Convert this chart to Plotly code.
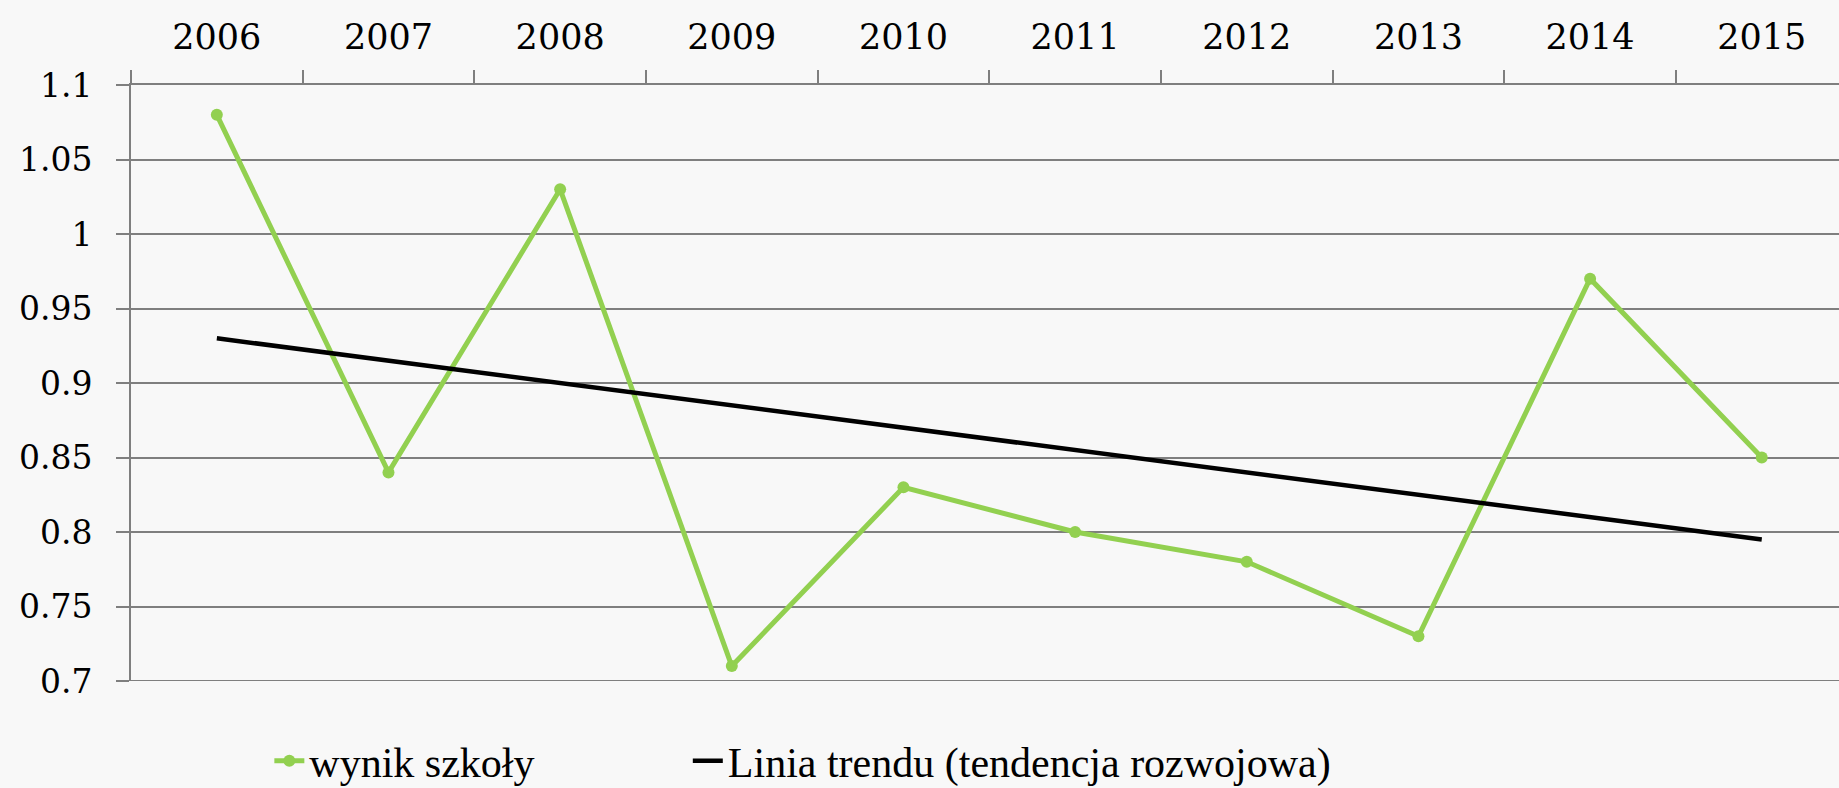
import plotly.graph_objects as go

years = ["2006", "2007", "2008", "2009", "2010", "2011", "2012", "2013", "2014", "2015"]
school_result = [1.08, 0.84, 1.03, 0.71, 0.83, 0.80, 0.78, 0.73, 0.97, 0.85]
trend_years = ["2006", "2015"]
trend_values = [0.93, 0.795]
y_ticks = [0.7, 0.75, 0.8, 0.85, 0.9, 0.95, 1.0, 1.05, 1.1]
y_tick_labels = ["0.7", "0.75", "0.8", "0.85", "0.9", "0.95", "1", "1.05", "1.1"]

GREEN = "#92D050"
GRID = "#7f7f7f"
BG = "#f8f8f8"

fig = go.Figure()
fig.add_trace(go.Scatter(
    x=years, y=school_result, mode="lines+markers", name="wynik szkoły",
    line=dict(color=GREEN, width=5), marker=dict(color=GREEN, size=12),
    legend="legend",
))
fig.add_trace(go.Scatter(
    x=trend_years, y=trend_values, mode="lines",
    name="Linia trendu (tendencja rozwojowa)",
    line=dict(color="black", width=4.5),
    legend="legend2",
))

legend_font = dict(family="Liberation Serif", size=42, color="black")

fig.update_layout(
    width=1839, height=788,
    margin=dict(l=131, r=0, t=85, b=107, autoexpand=False),
    paper_bgcolor=BG, plot_bgcolor=BG,
    font=dict(family="DejaVu Serif", color="black"),
    showlegend=True,
    legend=dict(
        orientation="h", x=0.081, xanchor="left", y=-0.134, yanchor="middle",
        font=legend_font, bgcolor="rgba(0,0,0,0)",
    ),
    legend2=dict(
        orientation="h", x=0.326, xanchor="left", y=-0.134, yanchor="middle",
        font=legend_font, bgcolor="rgba(0,0,0,0)",
    ),
    xaxis=dict(
        type="category", categoryorder="array", categoryarray=years,
        side="top", range=[-0.5, 9.45], showgrid=False,
        ticks="outside", tickson="boundaries", ticklen=13, tickwidth=2, tickcolor=GRID,
        showline=True, linecolor=GRID, linewidth=2,
        tickfont=dict(family="DejaVu Serif", size=35, color="black"),
        ticklabelstandoff=20,
        zeroline=False,
    ),
    yaxis=dict(
        range=[0.7, 1.1], tickvals=y_ticks, ticktext=y_tick_labels,
        showgrid=True, gridcolor=GRID, gridwidth=2,
        ticks="outside", ticklen=13, tickwidth=2, tickcolor=GRID,
        showline=True, linecolor=GRID, linewidth=2,
        tickfont=dict(family="DejaVu Serif", size=33, color="black"),
        ticklabelstandoff=17,
        zeroline=False,
    ),
)

# bottom gridline at the lowest tick value (range edge)
fig.add_shape(
    type="line", xref="paper", yref="y", x0=0, x1=1,
    y0=y_ticks[0], y1=y_ticks[0], line=dict(color=GRID, width=2), layer="below",
)

fig.write_html(
    "out.html",
    config={"displayModeBar": False},
    post_script="document.body.style.margin='0';document.body.style.overflow='hidden';",
)
